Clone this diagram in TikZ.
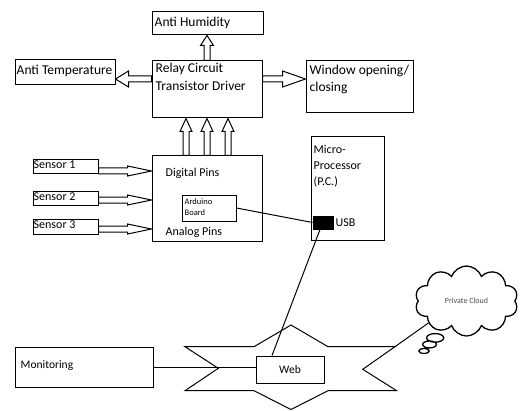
\documentclass[tikz,border=0pt]{standalone}
\usepackage{fontspec}
\setmainfont{Carlito}
\usetikzlibrary{calc, positioning, shapes.symbols, shapes.callouts}

% hollow block arrow: head length, head half width, from, to
\newcommand{\blockarrow}[4]{%
  \coordinate (ba) at (#3);
  \coordinate (bt) at (#4);
  \coordinate (bb) at ($(bt)!#1!(ba)$);
  \draw[line width=1pt] ($(ba)!3pt!90:(bb)$) -- ($(bb)!3pt!-90:(ba)$) -- ($(bb)!#2!-90:(ba)$) -- (bt)
    -- ($(bb)!#2!90:(ba)$) -- ($(bb)!3pt!90:(ba)$) -- ($(ba)!3pt!-90:(bb)$) -- cycle;}

\begin{document}
\begin{tikzpicture}[x=1pt, y=1pt,
    box/.style={rectangle, draw, line width=1pt, inner sep=0pt},
    lbl/.style={anchor=base west, inner sep=0pt, font=\fontsize{13.5}{17}\selectfont},
    small/.style={anchor=base west, inner sep=0pt, font=\fontsize{12}{15}\selectfont}]

    \useasboundingbox (0,0) rectangle (521,410);

    % Uscite del relay
    \node[box, minimum width=111, minimum height=23] (hum) at (207.5,386.5) {};
    \node[lbl] (humtxt) at ([xshift=3, yshift=-15]hum.north west) {Anti Humidity};

    \node[box, minimum width=100, minimum height=25] (temp) at (65,337.5) {};
    \node[lbl] (temptxt) at ([xshift=2, yshift=-15]temp.north west) {Anti Temperature};

    \node[box, minimum width=110, minimum height=57] (relay) at (207,320.5) {};
    \node[lbl] (relaytxt) at ([xshift=4, yshift=-12]relay.north west) {Relay Circuit};
    \node[lbl] (relaytxtb) at ([yshift=-18]relaytxt.base west) {Transistor Driver};

    \node[box, minimum width=107, minimum height=52] (win) at (359.5,323) {};
    \node[lbl] (wintxt) at ([xshift=4, yshift=-14]win.north west) {Window opening/};
    \node[lbl] (wintxtb) at ([yshift=-17]wintxt.base west) {closing};

    \blockarrow{10pt}{6.5pt}{relay.north}{hum.south -| ba}
    \blockarrow{13pt}{8pt}{[yshift=10.5]relay.west}{temp.east |- ba}
    \blockarrow{23pt}{8pt}{[yshift=10.5]relay.east}{win.west |- ba}

    % Arduino
    \node[box, minimum width=110, minimum height=85] (dig) at (207,211.5) {};
    \node[small] (digtxt) at ([xshift=14, yshift=-21]dig.north west) {Digital Pins};
    \node[small] (anatxt) at ([xshift=14, yshift=-80]dig.north west) {Analog Pins};

    \node[box, minimum width=54, minimum height=26] (ard) at (209,202) {};
    \node[anchor=base west, inner sep=0pt, font=\fontsize{8.5}{10}\selectfont] (ardtxt) at ([xshift=3, yshift=-9.5]ard.north west) {Arduino};
    \node[anchor=base west, inner sep=0pt, font=\fontsize{8.5}{10}\selectfont] (ardtxtb) at ([yshift=-11]ardtxt.base west) {Board};

    \foreach \dx in {-21,0,21}{
        \blockarrow{13pt}{6pt}{[xshift=\dx]dig.north}{relay.south -| ba}
    }

    % Sensori
    \node[box, minimum width=65, minimum height=14] (s1) at (65.5,243) {};
    \node[small] (s1txt) at ([xshift=1, yshift=-9.5]s1.north west) {Sensor 1};
    \node[box, minimum width=65, minimum height=14] (s2) at (65.5,212) {};
    \node[small] (s2txt) at ([xshift=1, yshift=-9.5]s2.north west) {Sensor 2};
    \node[box, minimum width=65, minimum height=15] (s3) at (65.5,183.5) {};
    \node[small] (s3txt) at ([xshift=1, yshift=-10]s3.north west) {Sensor 3};

    \blockarrow{24pt}{5pt}{[yshift=-4]s1.east}{dig.west |- ba}
    \blockarrow{24pt}{5pt}{[yshift=-2]s2.east}{dig.west |- ba}
    \blockarrow{24pt}{5pt}{[yshift=-2.5]s3.east}{dig.west |- ba}

    % PC
    \node[box, minimum width=73, minimum height=103] (pc) at (347.5,221.5) {};
    \node[small] (pctxt) at ([xshift=3, yshift=-17]pc.north west) {Micro-};
    \node[small] (pctxtb) at ([yshift=-16]pctxt.base west) {Processor};
    \node[small] (pctxtc) at ([yshift=-15.5]pctxtb.base west) {(P.C.)};

    \node[box, fill=black, minimum width=20, minimum height=13] (usb) at (323,187.5) {};
    \node[small] (usbtxt) at ([xshift=2, yshift=-4.2]usb.east) {USB};

    \draw[line width=1pt] (ard.east) -- (usb.west);

    % Web
    \draw[line width=1pt] (185,63.3) -- (254,63.3) -- (291,85) -- (328,63.3) -- (395,63.3) coordinate (starne)
        -- (362.7,40.7) -- (396.7,19.3) -- (328,19.3) -- (291,0.5) -- (254,19.3) -- (185,19.3) -- (218.3,41.7) -- cycle;

    \node[box, fill=white, minimum width=68, minimum height=27, font=\fontsize{11.5}{14}\selectfont] (web) at (290,40.5) {Web};

    \node[box, minimum width=138, minimum height=40] (mon) at (84,43) {};
    \node[anchor=base west, inner sep=0pt, font=\fontsize{11.5}{14}\selectfont] (montxt) at ([xshift=6, yshift=-22]mon.north west) {Monitoring};

    \draw[line width=1pt] (mon.east) -- (web.west |- mon.east);
    \draw[line width=1pt] ([xshift=-3]usb.south) -- ([xshift=-18]web.north);

    % Cloud
    \node[cloud callout, draw, line width=1.3pt, cloud puffs=10, cloud puff arc=140, aspect=1.4, minimum width=103, minimum height=70,
        callout absolute pointer={(424,59)}, callout pointer segments=3,
        font=\fontsize{8}{10}\selectfont, text=black!70] (cloud) at (466.5,109) {Private Cloud};

    \draw[line width=1pt] (starne) -- (cloud.210);
\end{tikzpicture}
\end{document}
